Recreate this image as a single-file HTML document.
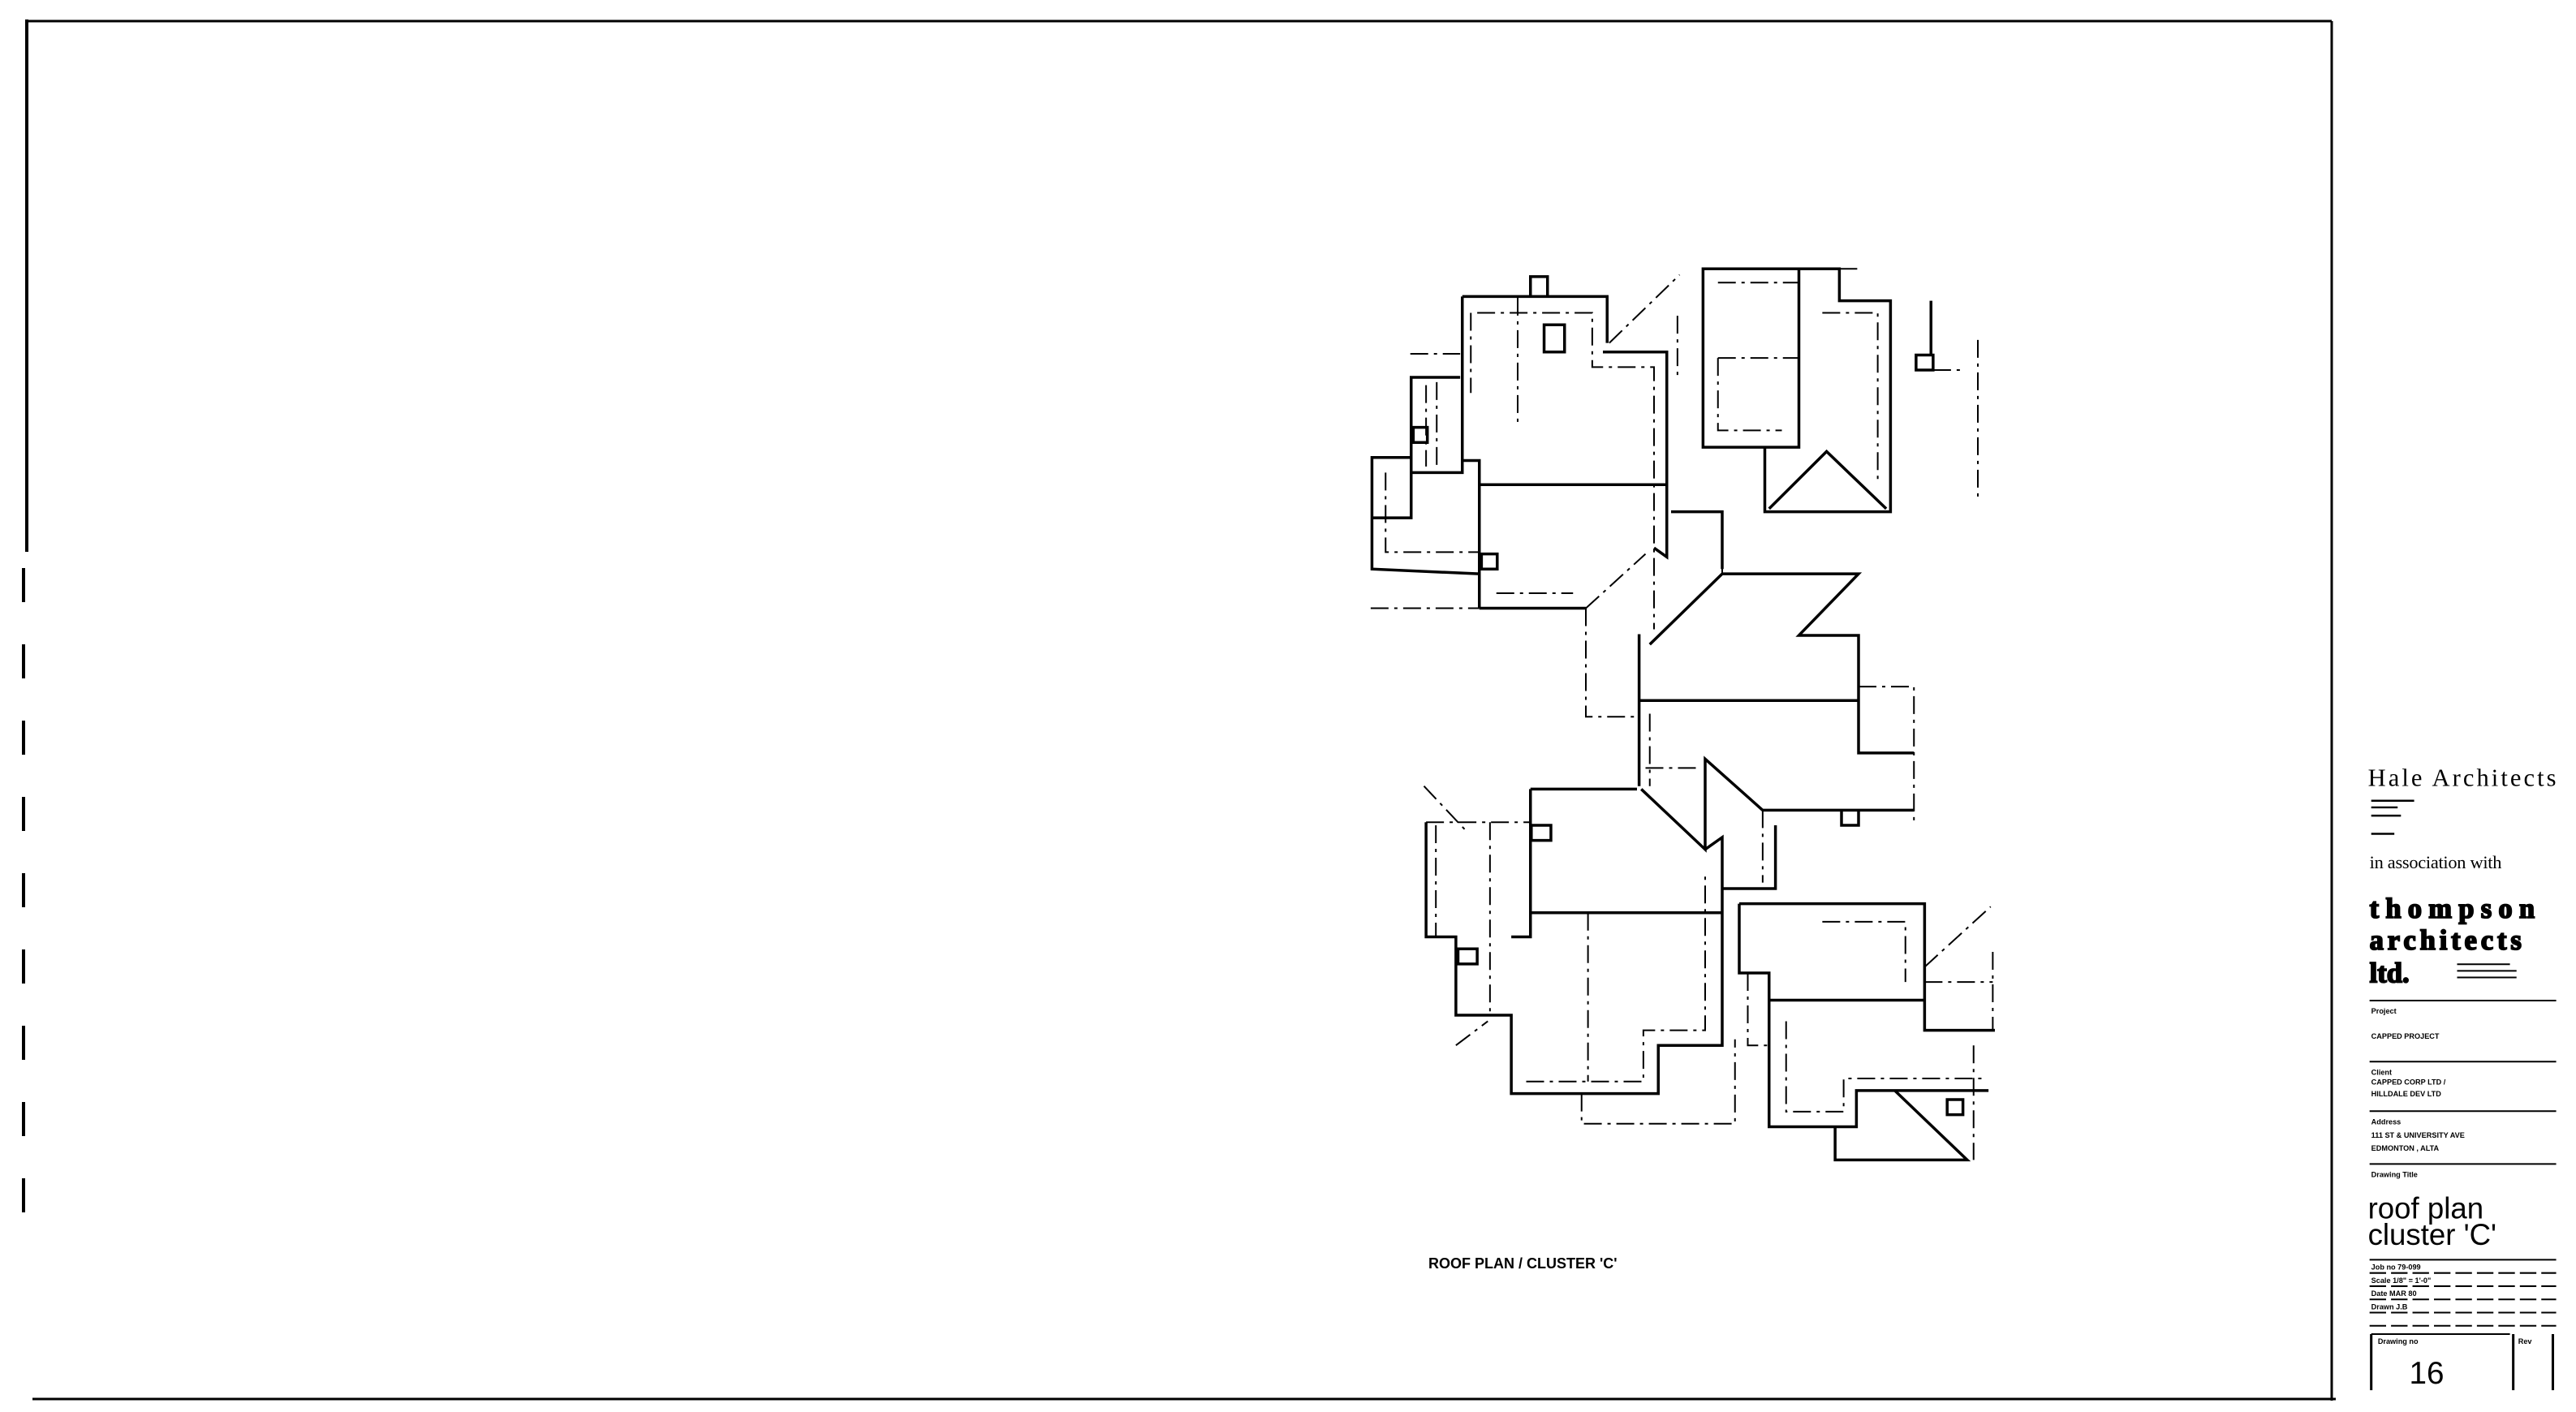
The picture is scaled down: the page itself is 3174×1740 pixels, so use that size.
<!DOCTYPE html>
<html><head><meta charset="utf-8"><style>
html,body{margin:0;padding:0;background:#fff;}
svg{display:block;}
text{font-family:"Liberation Sans",sans-serif;fill:#000;}
</style></head><body>
<svg width="3174" height="1740" viewBox="0 0 3174 1740" xmlns="http://www.w3.org/2000/svg">
<rect width="3174" height="1740" fill="#fff"/>
<!-- frame -->
<g stroke="#000" fill="none">
<line x1="33" y1="26" x2="2873" y2="26" stroke-width="3"/>
<line x1="33" y1="24" x2="33" y2="680" stroke-width="4"/>
<line x1="29" y1="700" x2="29" y2="1500" stroke-width="4" stroke-dasharray="42,52"/>
<line x1="40" y1="1724" x2="2878" y2="1724" stroke-width="3"/>
<line x1="2873" y1="26" x2="2873" y2="1726" stroke-width="3"/>
</g>
<!-- plan -->
<g transform="translate(1660,300) scale(0.525,0.743)" fill="none" stroke="#000">
<g stroke-width="3.5">
<path vector-effect="non-scaling-stroke" d="M270,88 L610,88 L610,165 M600,180 L750,180 L750,520 L720,505 M310,605 L560,605 M270,88 L270,380 L150,380 L150,222 L265,222 M150,355 L58,355 L58,540 L310,548 M58,455 L150,455 L150,380 M270,360 L310,360 L310,605 M310,400 L750,400 M462,135 L510,135 L510,180 L462,180 Z M155,305 L188,305 L188,330 L155,330 Z M315,515 L352,515 L352,540 L315,540 Z M430,55 L470,55 L470,88 L430,88 Z"/>
<path vector-effect="non-scaling-stroke" d="M835,42 L1060,42 L1060,338 L835,338 Z M1060,42 L1155,42 L1155,95 L1275,95 L1275,445 L980,445 L980,338 M990,440 L1125,345 L1265,440 M1335,185 L1375,185 L1375,210 L1335,210 Z M1370,95 L1370,185"/>
<path vector-effect="non-scaling-stroke" d="M760,445 L880,445 L880,540 M710,665 L880,548 L1200,548 L1060,650 L1200,650 L1200,845 L1330,845 M685,648 L685,900 M685,758 L1200,758 M975,940 L1330,940 M1160,940 L1200,940 L1200,965 L1160,965 Z M690,905 L840,1005 L840,855 L975,940"/>
<path vector-effect="non-scaling-stroke" d="M430,905 L680,905 M430,905 L430,1150 L385,1150 M185,960 L185,1150 L255,1150 L255,1280 L385,1280 L385,1410 L730,1410 L730,1330 L880,1330 L880,985 L840,1005 M430,1110 L880,1110 M260,1170 L305,1170 L305,1195 L260,1195 Z M432,965 L478,965 L478,990 L432,990 Z M880,1070 L1005,1070 L1005,965"/>
<path vector-effect="non-scaling-stroke" d="M920,1095 L1355,1095 L1355,1305 L1520,1305 M920,1095 L920,1210 L990,1210 L990,1465 L1195,1465 L1195,1405 L1505,1405 M990,1255 L1355,1255 M1145,1465 L1145,1520 L1455,1520 L1285,1405 M1408,1420 L1445,1420 L1445,1445 L1408,1445 Z"/>
</g>
<g stroke-width="2" stroke-dasharray="22,7,4,7">
<path vector-effect="non-scaling-stroke" d="M615,165 L780,52 M560,605 L700,515 M55,605 L310,605 M305,115 L575,115 L575,205 L720,205 L720,640 M290,115 L290,248 M90,380 L90,512 L310,512 M350,580 L530,580 M148,183 L265,183 M400,90 L400,300 M185,235 L185,370 M775,120 L775,220 M210,230 L210,370"/>
<path vector-effect="non-scaling-stroke" d="M870,65 L1060,65 M870,190 L1060,190 M870,190 L870,310 L1020,310 M1115,115 L1245,115 L1245,400 M1375,210 L1440,210 M1480,160 L1480,420 M1155,42 L1205,42"/>
<path vector-effect="non-scaling-stroke" d="M880,548 L880,450 M560,605 L560,785 L685,785 M1200,735 L1330,735 L1330,960 M700,870 L830,870 M710,780 L710,900 M975,940 L975,1060"/>
<path vector-effect="non-scaling-stroke" d="M185,960 L430,960 M208,965 L208,1150 M420,1390 L695,1390 L695,1305 L840,1305 L840,1045 M550,1410 L550,1460 L910,1460 L910,1320 M180,900 L280,975 M255,1330 L330,1290 M335,960 L335,1280 M565,1110 L565,1390"/>
<path vector-effect="non-scaling-stroke" d="M1355,1200 L1510,1100 M1030,1290 L1030,1440 L1165,1440 L1165,1385 L1500,1385 M1115,1125 L1310,1125 L1310,1225 M1515,1175 L1515,1305 M1355,1225 L1515,1225 M940,1210 L940,1330 L990,1330 M1470,1330 L1470,1520"/>
</g>
</g>
<text x="1760" y="1563" font-size="18" font-weight="bold">ROOF  PLAN / CLUSTER 'C'</text>
<!-- title block -->
<g transform="scale(2.0346)">
<text x="1434" y="476" font-size="15" textLength="114" style="font-family:'Liberation Serif',serif">Hale Architects</text>
<g stroke="#000" stroke-width="1.2">
<line x1="1436" y1="485" x2="1462" y2="485"/><line x1="1436" y1="489" x2="1452" y2="489"/><line x1="1436" y1="494" x2="1454" y2="494"/><line x1="1436" y1="505" x2="1450" y2="505"/>
</g>
<text x="1435" y="526" font-size="11" textLength="80" style="font-family:'Liberation Serif',serif">in association with</text>
<text x="1435" y="556" font-size="17" font-weight="bold" textLength="100" fill="#fff" stroke="#000" stroke-width="0.9" style="font-family:'Liberation Serif',serif">thompson</text>
<text x="1435" y="575" font-size="17" font-weight="bold" textLength="92" fill="#fff" stroke="#000" stroke-width="0.9" style="font-family:'Liberation Serif',serif">architects</text>
<text x="1435" y="595" font-size="17" font-weight="bold" fill="#fff" stroke="#000" stroke-width="0.9" style="font-family:'Liberation Serif',serif">ltd.</text>
<g stroke="#000" stroke-width="1">
<line x1="1488" y1="588" x2="1524" y2="588"/><line x1="1488" y1="592" x2="1524" y2="592"/><line x1="1488" y1="584" x2="1520" y2="584"/>
<line x1="1435" y1="606" x2="1548" y2="606"/>
<line x1="1435" y1="643" x2="1548" y2="643"/>
<line x1="1435" y1="673" x2="1548" y2="673"/>
<line x1="1435" y1="705" x2="1548" y2="705"/>
<line x1="1435" y1="763" x2="1548" y2="763"/>
<line x1="1435" y1="771" x2="1548" y2="771" stroke-dasharray="10,3"/>
<line x1="1435" y1="779" x2="1548" y2="779" stroke-dasharray="10,3"/>
<line x1="1435" y1="787" x2="1548" y2="787" stroke-dasharray="10,3"/>
<line x1="1435" y1="795" x2="1548" y2="795" stroke-dasharray="10,3"/>
<line x1="1435" y1="803" x2="1548" y2="803" stroke-dasharray="10,3"/>
<line x1="1436" y1="808" x2="1436" y2="842" stroke-width="1.5"/>
<line x1="1436" y1="808" x2="1520" y2="808"/>
<line x1="1522" y1="808" x2="1522" y2="842" stroke-width="1.5"/>
<line x1="1546" y1="808" x2="1546" y2="842" stroke-width="1.5"/>
</g>
<g font-size="4.5" font-weight="bold">
<text x="1436" y="614">Project</text>
<text x="1436" y="629">CAPPED  PROJECT</text>
<text x="1436" y="651">Client</text>
<text x="1436" y="657">CAPPED CORP LTD /</text>
<text x="1436" y="664">HILLDALE DEV LTD</text>
<text x="1436" y="681">Address</text>
<text x="1436" y="689">111 ST &amp; UNIVERSITY AVE</text>
<text x="1436" y="697">EDMONTON , ALTA</text>
<text x="1436" y="713">Drawing Title</text>
<text x="1436" y="769">Job no   79-099</text>
<text x="1436" y="777">Scale    1/8" = 1'-0"</text>
<text x="1436" y="785">Date     MAR 80</text>
<text x="1436" y="793">Drawn    J.B</text>
<text x="1440" y="814">Drawing no</text>
<text x="1525" y="814">Rev</text>
</g>
<text x="1434" y="738" font-size="18">roof plan</text>
<text x="1434" y="754" font-size="18">cluster 'C'</text>
<text x="1459" y="838" font-size="19">16</text>
</g>
</svg>
</body></html>
